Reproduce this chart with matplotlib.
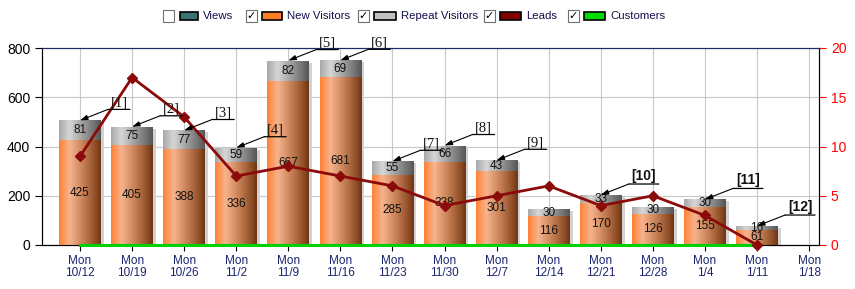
import matplotlib
matplotlib.use("Agg")
import matplotlib.pyplot as plt
import numpy as np
from matplotlib.patches import Rectangle
from matplotlib.colors import LinearSegmentedColormap
from matplotlib.transforms import offset_copy

# ---------------- data ----------------
categories = ["Mon\n10/12", "Mon\n10/19", "Mon\n10/26", "Mon\n11/2", "Mon\n11/9",
              "Mon\n11/16", "Mon\n11/23", "Mon\n11/30", "Mon\n12/7", "Mon\n12/14",
              "Mon\n12/21", "Mon\n12/28", "Mon\n1/4", "Mon\n1/11", "Mon\n1/18"]
new_visitors = [425, 405, 388, 336, 667, 681, 285, 338, 301, 116, 170, 126, 155, 61]
repeat_visitors = [81, 75, 77, 59, 82, 69, 55, 66, 43, 30, 33, 30, 30, 16]
leads = [9, 17, 13, 7, 8, 7, 6, 4, 5, 6, 4, 5, 3, 0]
customers = [0, 0, 0, 0, 0, 0, 0, 0, 0, 0, 0, 0, 0, 0]
note_labels = ["[1]", "[2]", "[3]", "[4]", "[5]", "[6]", "[7]", "[8]", "[9]", "[10]", "[11]", "[12]"]
note_index = [0, 1, 2, 3, 4, 5, 6, 7, 8, 10, 12, 13]
left_ticks = [0, 200, 400, 600, 800]
right_ticks = [0, 5, 10, 15, 20]
legend_names = ["Views", "New Visitors", "Repeat Visitors", "Leads", "Customers"]
legend_checked = [False, True, True, True, True]

# ---------------- style ----------------
W, H, DPI = 855, 289, 100
fig = plt.figure(figsize=(W / DPI, H / DPI), dpi=DPI)
plt.rcParams['font.family'] = ['Liberation Sans', 'DejaVu Sans']

ax = fig.add_axes([42 / W, 1 - 245 / H, (819 - 42) / W, (245 - 48) / H])
ax2 = ax.twinx()

orange_cmap = LinearSegmentedColormap.from_list(
    "or", [(0, "#ff8038"), (0.08, "#ff9050"), (0.25, "#f6b48e"), (0.5, "#d48c62"), (0.85, "#94522a"), (1, "#6e3414")])
gray_cmap = LinearSegmentedColormap.from_list(
    "gr", [(0, "#a8a8a8"), (0.25, "#d6d6d6"), (0.55, "#a2a2a2"), (0.85, "#707070"), (1, "#555555")])
grad = np.linspace(0, 1, 256).reshape(1, -1)

n = len(new_visitors)
x = np.arange(len(categories))
bw = 0.8
shadow_tr = offset_copy(ax.transData, fig=fig, x=3, y=-2, units='dots')

for i in range(n):
    nv, rv = new_visitors[i], repeat_visitors[i]
    left = x[i] - bw / 2
    ax.add_patch(Rectangle((left, 0), bw, nv + rv, transform=shadow_tr,
                           facecolor="#d2d2d2", edgecolor="none", zorder=2))
    for bottom, height, cmap in [(0, nv, orange_cmap), (nv, rv, gray_cmap)]:
        rect = Rectangle((left, bottom), bw, height, facecolor="none", edgecolor="none", zorder=3)
        ax.add_patch(rect)
        im = ax.imshow(grad, cmap=cmap, aspect='auto', extent=(left, left + bw, bottom, bottom + height),
                       origin='lower', zorder=3, interpolation='bilinear')
        im.set_clip_path(rect)
    ax.text(x[i], nv / 2, str(nv), ha='center', va='center', fontsize=8.5, color="#111111", zorder=5)
    ax.text(x[i], nv + rv / 2, str(rv), ha='center', va='center', fontsize=8.5, color="#111111", zorder=5)

ax.set_xlim(-0.73, 14.19)
ax.set_ylim(0, 800)
ax.set_xticks(x)
ax.set_xticklabels(categories, fontsize=8.5, color="#1c2470", linespacing=1.0)
ax.set_yticks(left_ticks)
ax.tick_params(axis='y', labelsize=10, colors="#000000", length=5, direction='out')
ax.tick_params(axis='x', length=4, direction='out', pad=3)
ax.grid(True, color="#c8c8c8", linewidth=0.8, zorder=0)
ax.set_axisbelow(True)
for s in ["left", "bottom", "right"]:
    ax.spines[s].set_color("black")
ax.spines["top"].set_color("#1a2a6a")

# leads & customers on right axis
ax2.set_ylim(0, 20)
ax2.set_yticks(right_ticks)
ax2.tick_params(axis='y', labelsize=10, colors="red", length=5, direction='out')
ax2.spines["right"].set_color("black")
ax2.spines["top"].set_color("#1a2a6a")
ax2.plot(x[:n], customers, color="#00d000", linewidth=2.2, zorder=4, clip_on=False)
ax2.plot(x[:n], leads, color="#8b0a0a", linewidth=2, marker='D', markersize=5, zorder=5, clip_on=False)

# annotations
for lab, idx in zip(note_labels, note_index):
    top = new_visitors[idx] + repeat_visitors[idx]
    bold = len(lab) > 3
    w = 30 if bold else 22
    # pointer arrow
    ax2.annotate("", xy=(x[idx], top), xycoords=ax.transData,
                 xytext=(28, 11), textcoords='offset pixels',
                 arrowprops=dict(arrowstyle='-|>,head_length=0.45,head_width=0.15', color='black',
                                 lw=0.8, shrinkA=0, shrinkB=0), zorder=6)
    # underline
    ax2.annotate("", xy=(x[idx], top), xycoords=offset_copy(ax.transData, fig=fig, x=28 + w, y=11, units='dots'),
                 xytext=(x[idx], top), textcoords=offset_copy(ax.transData, fig=fig, x=28, y=11, units='dots'),
                 arrowprops=dict(arrowstyle='-', color='black', lw=0.9, shrinkA=0, shrinkB=0), zorder=6)
    if bold:
        ax2.annotate(lab, xy=(x[idx], top), xycoords=ax.transData, xytext=(28 + w / 2, 12),
                     textcoords='offset pixels', ha='center', va='bottom', fontsize=10,
                     fontweight='bold', color='#111111', zorder=6)
    else:
        ax2.annotate(lab, xy=(x[idx], top), xycoords=ax.transData, xytext=(28 + w / 2, 11),
                     textcoords='offset pixels', ha='center', va='bottom', fontsize=10.5,
                     family=['Liberation Serif', 'DejaVu Serif'], color='#111111', zorder=6)

# legend (manual, with checkboxes)
legend_colors = ["#3c7272", "#ff7f2a", "#c0c0c0", "#800000", "#00dd00"]
cb_x = [163, 246, 358, 484, 568]
patch_x = [180, 262, 374, 500, 584]
patch_w = [18, 20, 22, 21, 21]
yc = 16
for name, col, cbx, px, pw, chk in zip(legend_names, legend_colors, cb_x, patch_x, patch_w, legend_checked):
    fig.add_artist(Rectangle((cbx / W, 1 - (yc + 5.5) / H), 11 / W, 11 / H, transform=fig.transFigure,
                             facecolor='white', edgecolor='#707070', lw=0.8))
    if chk:
        fig.text((cbx + 5.5) / W, 1 - (yc + 0.5) / H, "\u2713", ha='center', va='center',
                 fontsize=8, fontweight='bold', color='black', family=['DejaVu Sans'])
    fig.add_artist(Rectangle((px / W, 1 - (yc + 4) / H), pw / W, 8 / H, transform=fig.transFigure,
                             facecolor=col, edgecolor='black', lw=1.2))
    fig.text((px + pw + 5) / W, 1 - yc / H, name, ha='left', va='center', fontsize=8.2, color='#10104a')

fig.savefig("out.png", dpi=DPI)
